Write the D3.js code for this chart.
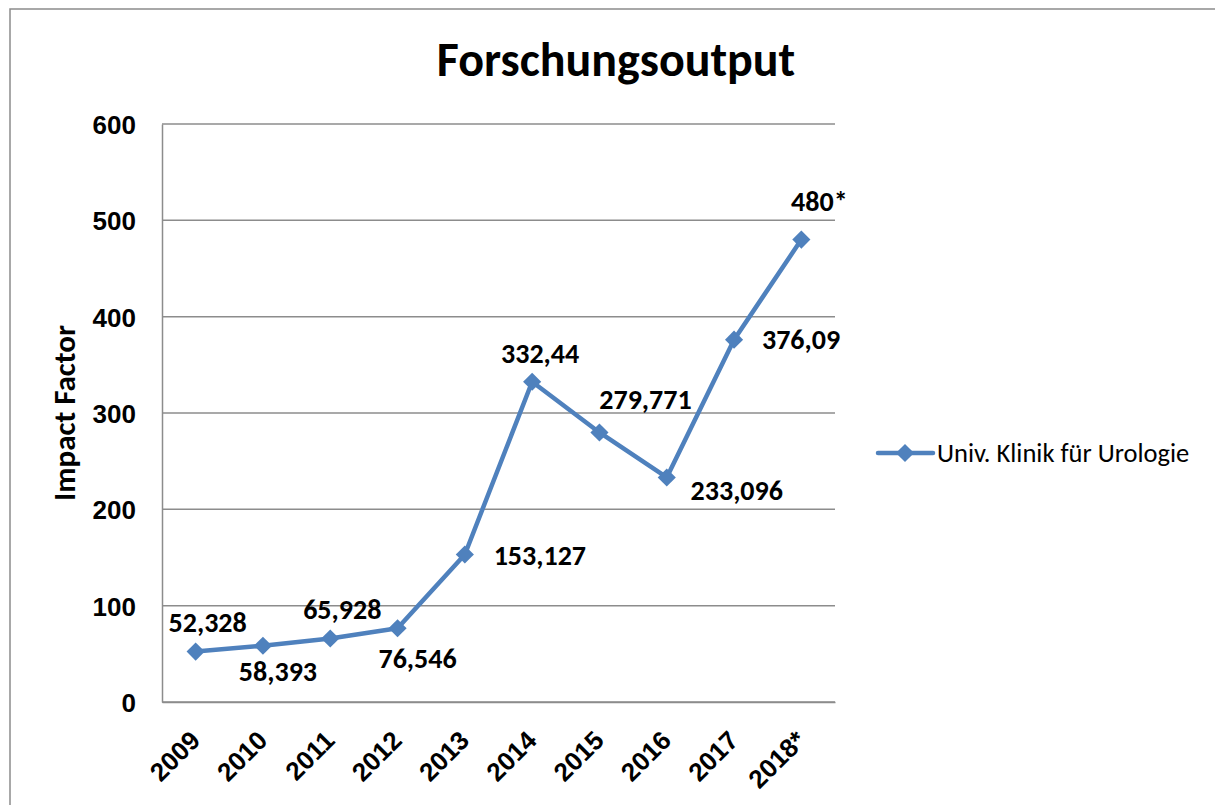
<!DOCTYPE html>
<html lang="de">
<head>
<meta charset="UTF-8">
<title>Forschungsoutput</title>
<script src="https://d3js.org/d3.v7.min.js"></script>
<style>
  body { margin: 0; background: #fff; }
  svg { display: block; font-family: Carlito, Lato, "Liberation Sans", sans-serif; }
  .grid line { stroke: #8c8c8c; stroke-width: 1.5; }
  .tick text { font-weight: bold; fill: #000; }
</style>
</head>
<body>
<svg id="chart" width="1215" height="805"></svg>
<script>
// data
const years = ["2009", "2010", "2011", "2012", "2013", "2014", "2015", "2016", "2017", "2018*"];
const impact = [52.328, 58.393, 65.928, 76.546, 153.127, 332.44, 279.771, 233.096, 376.09, 480];
const valueLabels = ["52,328", "58,393", "65,928", "76,546", "153,127", "332,44", "279,771", "233,096", "376,09", "480*"];
const yTicks = [0, 100, 200, 300, 400, 500, 600];
const seriesName = "Univ. Klinik für Urologie";

// where each value label sits relative to its marker (dx, dy of baseline)
const labelOffset = [[12, -20], [15, 35], [12, -19], [20, 40], [75, 11],
                     [8, -19], [46, -23], [70, 23], [67, 9], [18, -29]];

const color = "#4f81bd";
const margin = { left: 162, right: 380, top: 124, bottom: 103 };
const W = 1215, H = 805;

const svg = d3.select("#chart");

// outer frame
svg.append("rect")
    .attr("x", 10).attr("y", 9)
    .attr("width", 1220).attr("height", 820)
    .attr("fill", "none").attr("stroke", "#8c8c8c").attr("stroke-width", 1.5);

const x = d3.scaleBand().domain(years).range([margin.left, W - margin.right]);
const y = d3.scaleLinear().domain([0, 600]).range([H - margin.bottom, margin.top]);
const cx = d => x(d) + x.bandwidth() / 2;

// gridlines
svg.append("g").attr("class", "grid")
    .selectAll("line").data(yTicks).join("line")
    .attr("x1", margin.left).attr("x2", W - margin.right)
    .attr("y1", d => y(d)).attr("y2", d => y(d));

// y axis
const yAxis = svg.append("g")
    .attr("transform", `translate(${margin.left},0)`)
    .call(d3.axisLeft(y).tickValues(yTicks).tickSize(0).tickPadding(26));
yAxis.select(".domain").attr("stroke", "#8c8c8c").attr("stroke-width", 1.5);
yAxis.selectAll("text").attr("font-size", 26).attr("dy", "0.36em");

// x axis
const xAxis = svg.append("g")
    .attr("transform", `translate(0,${H - margin.bottom})`)
    .call(d3.axisBottom(x).tickSize(0).tickPadding(0));
xAxis.select(".domain").attr("stroke", "#8c8c8c").attr("stroke-width", 1.5);
xAxis.selectAll("text")
    .attr("font-size", 26)
    .attr("text-anchor", "end")
    .attr("dy", null)
    .attr("transform", "translate(6,40) rotate(-45)");

// title
svg.append("text")
    .attr("x", 616).attr("y", 76)
    .attr("text-anchor", "middle")
    .attr("font-size", 48).attr("font-weight", "bold")
    .text("Forschungsoutput");

// y axis title
svg.append("text")
    .attr("transform", `translate(75,${(y(0) + y(600)) / 2}) rotate(-90)`)
    .attr("text-anchor", "middle")
    .attr("font-size", 31).attr("font-weight", "bold")
    .text("Impact Factor");

// line
const pts = years.map((d, i) => ({ year: d, value: impact[i], label: valueLabels[i], off: labelOffset[i] }));

svg.append("path")
    .datum(pts)
    .attr("fill", "none")
    .attr("stroke", color)
    .attr("stroke-width", 4.5)
    .attr("stroke-linejoin", "round")
    .attr("d", d3.line().x(d => cx(d.year)).y(d => y(d.value)));

const diamond = d3.symbol().type(d3.symbolDiamond2).size(210);

svg.selectAll(".marker").data(pts).join("path")
    .attr("class", "marker")
    .attr("d", diamond)
    .attr("fill", color)
    .attr("transform", d => `translate(${cx(d.year)},${y(d.value)})`);

svg.selectAll(".vlabel").data(pts).join("text")
    .attr("class", "vlabel")
    .attr("x", d => cx(d.year) + d.off[0])
    .attr("y", d => y(d.value) + d.off[1])
    .attr("text-anchor", "middle")
    .attr("font-size", 28).attr("font-weight", "bold")
    .text(d => d.label);

// legend
const lg = svg.append("g").attr("transform", "translate(878,453)");
lg.append("line").attr("x1", 0).attr("x2", 55)
    .attr("stroke", color).attr("stroke-width", 4.5).attr("stroke-linecap", "round");
lg.append("path").attr("d", diamond).attr("fill", color).attr("transform", "translate(27,0)");
lg.append("text").attr("x", 59).attr("y", 9)
    .attr("font-size", 26.5)
    .text(seriesName);
</script>
</body>
</html>
